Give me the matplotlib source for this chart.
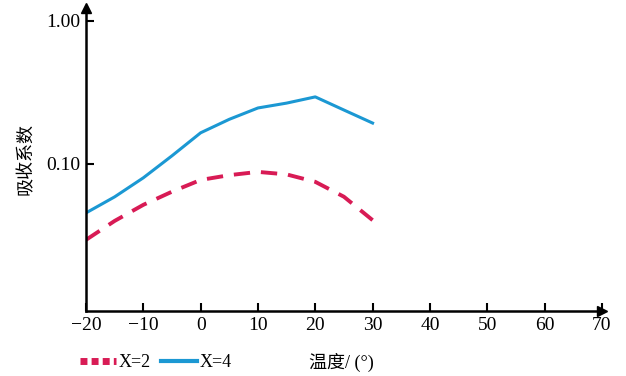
import matplotlib.pyplot as plt
from matplotlib.lines import Line2D

plt.rcParams['font.family'] = ['Liberation Serif', 'Noto Sans CJK SC']
plt.rcParams['axes.unicode_minus'] = True

# data
temp = [-20, -15, -10, -5, 0, 5, 10, 15, 20, 25, 30]
x2 = [0.0295, 0.040, 0.0518, 0.064, 0.0773, 0.0835, 0.088, 0.0845, 0.075, 0.059, 0.0405]
x4 = [0.0455, 0.0589, 0.080, 0.114, 0.165, 0.205, 0.246, 0.266, 0.294, 0.238, 0.193]
xticks = [-20, -10, 0, 10, 20, 30, 40, 50, 60, 70]
yticks = [0.10, 1.00]
ytick_labels = ["0.10", "1.00"]

red = "#d81b55"
blue = "#1b98d3"

fig = plt.figure(figsize=(6.26, 3.76), dpi=100)
ax = fig.add_axes([0.1374, 0.173, 0.824, 0.806])

ax.plot(temp, x2, color=red, lw=2.8, dashes=(4.2, 2.8))
ax.plot(temp, x4, color=blue, lw=2.2)

ax.set_yscale("log")
ax.set_xlim(-20, 70)
ax.set_ylim(0.0094, 1.23)
ax.set_xticks(xticks)
ax.set_xticklabels([("\u2212" + str(-t)) if t < 0 else str(t) for t in xticks])
ax.set_yticks(yticks)
ax.set_yticklabels(ytick_labels)
ax.minorticks_off()
ax.tick_params(direction="in", length=6, width=1.5, labelsize=14, pad=4)

for s in ["top", "right"]:
    ax.spines[s].set_visible(False)
for s in ["left", "bottom"]:
    ax.spines[s].set_linewidth(1.8)
ax.plot(1, 0, ">", color="black", ms=7, transform=ax.transAxes, clip_on=False)
ax.plot(0, 1, "^", color="black", ms=7, transform=ax.transAxes, clip_on=False)

ax.set_ylabel("吸收系数", fontsize=13, labelpad=8)
fig.text(0.545, 0.035, "温度/ (°)", fontsize=13, ha="center", va="center")

handles = [Line2D([], [], color=red, lw=5, dashes=(1.0, 0.6)),
           Line2D([], [], color=blue, lw=3)]
fig.legend(handles, ["X=2", "X=4"], loc="center left", bbox_to_anchor=(0.127, 0.035),
           ncol=2, frameon=False, fontsize=13, handlelength=2.0, handletextpad=0.15,
           columnspacing=0.6, borderaxespad=0, borderpad=0)

fig.savefig("out.png", dpi=100)
